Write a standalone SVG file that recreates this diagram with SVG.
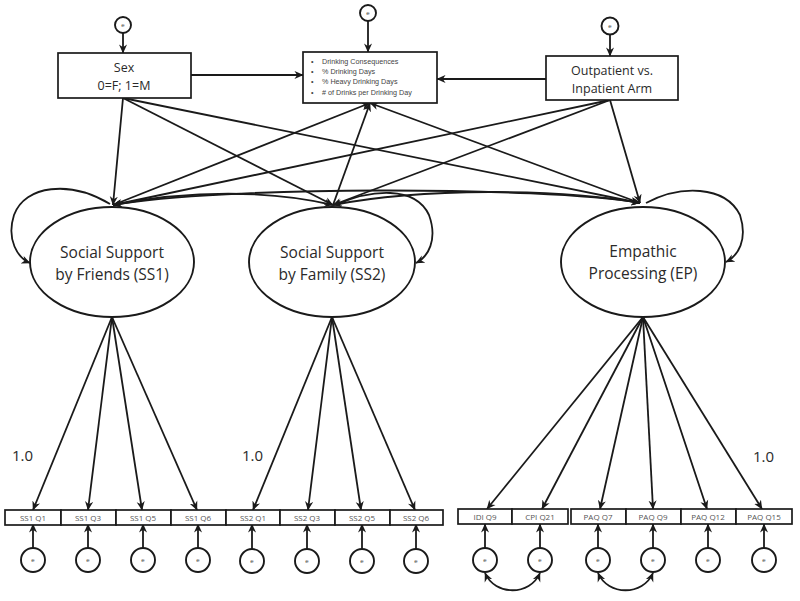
<svg xmlns="http://www.w3.org/2000/svg" width="800" height="601" viewBox="0 0 800 601">
<defs>
<marker id="arr" viewBox="0 0 10 10" refX="9.5" refY="5" markerWidth="9" markerHeight="9" markerUnits="userSpaceOnUse" orient="auto-start-reverse">
<path d="M0,0.5 L10,5 L0,9.5 L3,5 z" fill="#1a1a1a"/>
</marker>
</defs>
<style>
.ln{fill:none;stroke:#1a1a1a;stroke-width:1.8}
.box{fill:#fff;stroke:#1a1a1a;stroke-width:1.7}
.el{fill:#fff;stroke:#1a1a1a;stroke-width:1.9}
.err{fill:#fff;stroke:#1a1a1a;stroke-width:1.9}
.t{font-family:"Open Sans","Liberation Sans",sans-serif;fill:#2a2a2a;text-anchor:middle}
.big{font-size:15.5px}
.mid{font-size:12.5px}
.ind{font-size:8px;fill:#555}
.e{font-family:"Liberation Sans",sans-serif;font-size:6px;fill:#444;text-anchor:middle}
.one{font-family:"Open Sans","Liberation Sans",sans-serif;font-size:15px;fill:#2a2a2a}
</style>
<rect width="800" height="601" fill="#fff"/>

<g id="connectors">
<line class="ln" x1="123" y1="98" x2="113" y2="205" marker-end="url(#arr)"/>
<line class="ln" x1="123" y1="98" x2="333" y2="205" marker-end="url(#arr)"/>
<line class="ln" x1="123" y1="98" x2="640" y2="203" marker-end="url(#arr)"/>
<line class="ln" x1="610" y1="100" x2="113" y2="205" marker-end="url(#arr)"/>
<line class="ln" x1="610" y1="100" x2="333" y2="205" marker-end="url(#arr)"/>
<line class="ln" x1="610" y1="100" x2="640" y2="203" marker-end="url(#arr)"/>
<line class="ln" x1="113" y1="205" x2="370" y2="103" marker-end="url(#arr)"/>
<line class="ln" x1="333" y1="205" x2="370" y2="103" marker-end="url(#arr)"/>
<line class="ln" x1="640" y1="203" x2="370" y2="103" marker-end="url(#arr)"/>
<line class="ln" x1="191" y1="75" x2="303" y2="75" marker-end="url(#arr)"/>
<line class="ln" x1="546" y1="79" x2="437" y2="79" marker-end="url(#arr)"/>
<line class="ln" x1="123" y1="33" x2="123" y2="53" marker-end="url(#arr)"/>
<line class="ln" x1="368" y1="21" x2="368" y2="52" marker-end="url(#arr)"/>
<line class="ln" x1="610" y1="35" x2="610" y2="56" marker-end="url(#arr)"/>
<path class="ln" d="M113,205 C220,186 540,186 640,203" marker-start="url(#arr)" marker-end="url(#arr)"/>
<path class="ln" d="M113,205 C190,190 270,190 333,205" marker-start="url(#arr)" marker-end="url(#arr)"/>
<path class="ln" d="M333,205 C420,188 560,188 640,203" marker-start="url(#arr)" marker-end="url(#arr)"/>
<path class="ln" d="M110,204 C70,180 25,185 14,215 C6,240 18,258 30,263" marker-end="url(#arr)"/>
<path class="ln" d="M338,204 C370,190 415,185 429,215 C438,240 428,257 416,263" marker-end="url(#arr)"/>
<path class="ln" d="M646,203 C680,185 725,185 740,215 C748,240 738,256 726,262" marker-end="url(#arr)"/>
<line class="ln" x1="112" y1="317" x2="33" y2="510" marker-end="url(#arr)"/>
<line class="ln" x1="112" y1="317" x2="88" y2="510" marker-end="url(#arr)"/>
<line class="ln" x1="112" y1="317" x2="142" y2="510" marker-end="url(#arr)"/>
<line class="ln" x1="112" y1="317" x2="197" y2="510" marker-end="url(#arr)"/>
<line class="ln" x1="332" y1="317" x2="253" y2="510" marker-end="url(#arr)"/>
<line class="ln" x1="332" y1="317" x2="308" y2="510" marker-end="url(#arr)"/>
<line class="ln" x1="332" y1="317" x2="361" y2="510" marker-end="url(#arr)"/>
<line class="ln" x1="332" y1="317" x2="415" y2="510" marker-end="url(#arr)"/>
<line class="ln" x1="643" y1="317" x2="487" y2="509" marker-end="url(#arr)"/>
<line class="ln" x1="643" y1="317" x2="542" y2="509" marker-end="url(#arr)"/>
<line class="ln" x1="643" y1="317" x2="600" y2="509" marker-end="url(#arr)"/>
<line class="ln" x1="643" y1="317" x2="653" y2="509" marker-end="url(#arr)"/>
<line class="ln" x1="643" y1="317" x2="707" y2="509" marker-end="url(#arr)"/>
<line class="ln" x1="643" y1="317" x2="762" y2="509" marker-end="url(#arr)"/>
<line class="ln" x1="33" y1="548" x2="33" y2="524" marker-end="url(#arr)"/>
<line class="ln" x1="88" y1="548" x2="88" y2="524" marker-end="url(#arr)"/>
<line class="ln" x1="143" y1="548" x2="143" y2="524" marker-end="url(#arr)"/>
<line class="ln" x1="198" y1="548" x2="198" y2="524" marker-end="url(#arr)"/>
<line class="ln" x1="252" y1="549" x2="252" y2="524" marker-end="url(#arr)"/>
<line class="ln" x1="307" y1="549" x2="307" y2="524" marker-end="url(#arr)"/>
<line class="ln" x1="362" y1="549" x2="362" y2="524" marker-end="url(#arr)"/>
<line class="ln" x1="416" y1="549" x2="416" y2="524" marker-end="url(#arr)"/>
<line class="ln" x1="485" y1="548" x2="485" y2="524" marker-end="url(#arr)"/>
<line class="ln" x1="540" y1="548" x2="540" y2="524" marker-end="url(#arr)"/>
<line class="ln" x1="598" y1="548" x2="598" y2="524" marker-end="url(#arr)"/>
<line class="ln" x1="653" y1="548" x2="653" y2="524" marker-end="url(#arr)"/>
<line class="ln" x1="708" y1="548" x2="708" y2="524" marker-end="url(#arr)"/>
<line class="ln" x1="764" y1="548" x2="764" y2="524" marker-end="url(#arr)"/>
<path class="ln" d="M485,573 C495,596 530,596 540,573" marker-start="url(#arr)" marker-end="url(#arr)"/>
<path class="ln" d="M598,573 C608,596 643,596 653,573" marker-start="url(#arr)" marker-end="url(#arr)"/>
</g>

<g id="sex">
<rect class="box" x="58" y="53" width="133" height="45"/>
<text class="t mid" x="124" y="72">Sex</text>
<text class="t mid" x="124" y="90">0=F; 1=M</text>
</g>
<g id="sex-e"><circle class="err" cx="123" cy="25" r="8"/><text class="e" x="123" y="27">e</text></g>

<g id="outcomes">
<rect class="box" x="303" y="52" width="134" height="51"/>
<g font-family="'Liberation Sans',sans-serif" font-size="7.2" fill="#444">
<text x="311" y="64">•</text><text x="322" y="64">Drinking Consequences</text>
<text x="311" y="74">•</text><text x="322" y="74">% Drinking Days</text>
<text x="311" y="84">•</text><text x="322" y="84">% Heavy Drinking Days</text>
<text x="311" y="95">•</text><text x="322" y="95"># of Drinks per Drinking Day</text>
</g>
</g>
<g id="outcomes-e"><circle class="err" cx="368" cy="13" r="8"/><text class="e" x="368" y="15">e</text></g>

<g id="arm">
<rect class="box" x="546" y="56" width="132" height="44"/>
<text class="t mid" x="612" y="75">Outpatient vs.</text>
<text class="t mid" x="612" y="93">Inpatient Arm</text>
</g>
<g id="arm-e"><circle class="err" cx="610" cy="26" r="8.5"/><text class="e" x="610" y="28">e</text></g>

<g id="SS1">
<ellipse class="el" cx="112" cy="262" rx="82" ry="55"/>
<text class="t big" x="112" y="258">Social Support</text>
<text class="t big" x="112" y="280">by Friends (SS1)</text>
</g>
<g id="SS2">
<ellipse class="el" cx="332" cy="262" rx="83" ry="55"/>
<text class="t big" x="332" y="258">Social Support</text>
<text class="t big" x="332" y="280">by Family (SS2)</text>
</g>
<g id="EP">
<ellipse class="el" cx="643" cy="262" rx="82" ry="55"/>
<text class="t big" x="643" y="257">Empathic</text>
<text class="t big" x="643" y="279">Processing (EP)</text>
</g>

<g id="loading-labels">
<text class="one" x="12" y="461">1.0</text>
<text class="one" x="242" y="461">1.0</text>
<text class="one" x="753" y="462">1.0</text>
</g>

<g id="indicators">
<g id="ss1q1"><rect class="box" x="5" y="510" width="56" height="15"/><text class="t ind" x="33" y="520.5">SS1 Q1</text></g>
<g id="ss1q3"><rect class="box" x="61" y="510" width="55" height="15"/><text class="t ind" x="88" y="520.5">SS1 Q3</text></g>
<g id="ss1q5"><rect class="box" x="116" y="510" width="55" height="15"/><text class="t ind" x="143" y="520.5">SS1 Q5</text></g>
<g id="ss1q6"><rect class="box" x="171" y="510" width="55" height="15"/><text class="t ind" x="198" y="520.5">SS1 Q6</text></g>
<g id="ss2q1"><rect class="box" x="226" y="510" width="54" height="15"/><text class="t ind" x="253" y="520.5">SS2 Q1</text></g>
<g id="ss2q3"><rect class="box" x="280" y="510" width="55" height="15"/><text class="t ind" x="307" y="520.5">SS2 Q3</text></g>
<g id="ss2q5"><rect class="box" x="335" y="510" width="55" height="15"/><text class="t ind" x="362" y="520.5">SS2 Q5</text></g>
<g id="ss2q6"><rect class="box" x="390" y="510" width="53" height="15"/><text class="t ind" x="416" y="520.5">SS2 Q6</text></g>
<g id="idiq9"><rect class="box" x="458" y="509" width="54" height="15"/><text class="t ind" x="485" y="519.5">IDI Q9</text></g>
<g id="cpiq21"><rect class="box" x="512" y="509" width="56" height="15"/><text class="t ind" x="540" y="519.5">CPI Q21</text></g>
<g id="paqq7"><rect class="box" x="571" y="509" width="55" height="15"/><text class="t ind" x="598" y="519.5">PAQ Q7</text></g>
<g id="paqq9"><rect class="box" x="626" y="509" width="55" height="15"/><text class="t ind" x="653" y="519.5">PAQ Q9</text></g>
<g id="paqq12"><rect class="box" x="681" y="509" width="55" height="15"/><text class="t ind" x="708" y="519.5">PAQ Q12</text></g>
<g id="paqq15"><rect class="box" x="736" y="509" width="56" height="15"/><text class="t ind" x="764" y="519.5">PAQ Q15</text></g>
</g>

<g id="errors">
<g id="e1"><circle class="err" cx="33" cy="560" r="12"/><text class="e" x="33" y="562">e</text></g>
<g id="e2"><circle class="err" cx="88" cy="560" r="12"/><text class="e" x="88" y="562">e</text></g>
<g id="e3"><circle class="err" cx="143" cy="560" r="12"/><text class="e" x="143" y="562">e</text></g>
<g id="e4"><circle class="err" cx="198" cy="560" r="12"/><text class="e" x="198" y="562">e</text></g>
<g id="e5"><circle class="err" cx="252" cy="561" r="12"/><text class="e" x="252" y="563">e</text></g>
<g id="e6"><circle class="err" cx="307" cy="561" r="12"/><text class="e" x="307" y="563">e</text></g>
<g id="e7"><circle class="err" cx="362" cy="561" r="12"/><text class="e" x="362" y="563">e</text></g>
<g id="e8"><circle class="err" cx="416" cy="561" r="12"/><text class="e" x="416" y="563">e</text></g>
<g id="e9"><circle class="err" cx="485" cy="560" r="12"/><text class="e" x="485" y="562">e</text></g>
<g id="e10"><circle class="err" cx="540" cy="560" r="12"/><text class="e" x="540" y="562">e</text></g>
<g id="e11"><circle class="err" cx="598" cy="560" r="12"/><text class="e" x="598" y="562">e</text></g>
<g id="e12"><circle class="err" cx="653" cy="560" r="12"/><text class="e" x="653" y="562">e</text></g>
<g id="e13"><circle class="err" cx="708" cy="560" r="12"/><text class="e" x="708" y="562">e</text></g>
<g id="e14"><circle class="err" cx="764" cy="560" r="12"/><text class="e" x="764" y="562">e</text></g>
</g>
</svg>
